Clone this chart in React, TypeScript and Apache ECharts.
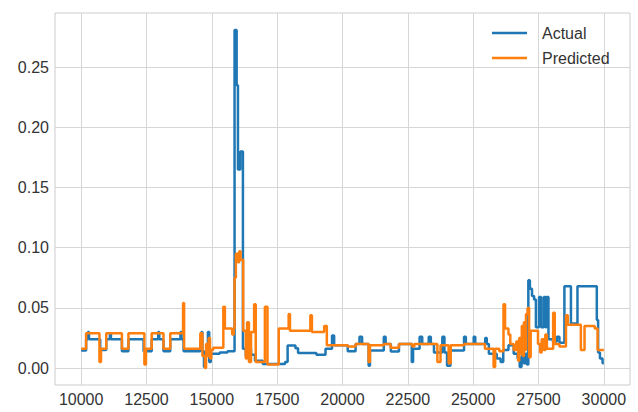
import React, { useEffect, useRef } from "react";
import * as echarts from "echarts";

const xTicks = [10000, 12500, 15000, 17500, 20000, 22500, 25000, 27500, 30000];
const yTicks = [0, 0.05, 0.1, 0.15, 0.2, 0.25];

const actualX = [
  10000, 10190, 10260, 10300, 10730, 10960, 11100, 11140, 11560, 11810, 12390, 12700, 12950, 12990,
  13150, 13410, 13800, 13840, 13920, 14560, 14600, 14640, 14700, 14760, 14850, 14900, 14960, 15300,
  15600, 15870, 15950, 16000, 16090, 16190, 16300, 16400, 16500, 16650, 16950, 17800, 17900, 18200,
  18300, 19000, 19350, 19600, 19680, 20200, 20500, 20650, 20750, 21000, 21050, 21580, 21650, 21850,
  22160, 22650, 22700, 22950, 23050, 23300, 23380, 23500, 23820, 23900, 24000, 24130, 24650, 24720,
  25020, 25080, 25460, 25520, 25600, 25900, 26050, 26150, 26350, 26550, 26700, 26780, 26850, 26930,
  27000, 27060, 27110, 27170, 27250, 27330, 27400, 27520, 27600, 27700, 27760, 27800, 27880, 28050,
  28200, 28300, 28490, 28740, 28990, 29730, 29780, 29850, 29950, 30000,
];
const actualY = [
  0.0146, 0.024, 0.03, 0.024, 0.015, 0.024, 0.029, 0.024, 0.014, 0.024, 0.014, 0.024, 0.03, 0.024,
  0.014, 0.024, 0.03, 0.024, 0.014, 0.024, 0.03, 0.014, 0.001, 0.014, 0.03, 0.005, 0.012, 0.013,
  0.014, 0.281, 0.235, 0.165, 0.18, 0.016, 0.01, 0.016, 0.011, 0.006, 0.0035, 0.005, 0.0187, 0.0165,
  0.0125, 0.011, 0.016, 0.027, 0.019, 0.014, 0.02, 0.026, 0.02, 0.002, 0.0146, 0.026, 0.02, 0.0138,
  0.02, 0.005, 0.016, 0.026, 0.02, 0.026, 0.02, 0.013, 0.026, 0.013, 0.002, 0.0146, 0.026, 0.02,
  0.026, 0.02, 0.025, 0.02, 0.012, 0.008, 0.005, 0.015, 0.019, 0.012, 0.008, 0.001, 0.01, 0.004,
  0.012, 0.003, 0.073, 0.066, 0.06, 0.057, 0.034, 0.059, 0.034, 0.059, 0.034, 0.059, 0.024, 0.022,
  0.026, 0.021, 0.068, 0.037, 0.068, 0.04, 0.013, 0.008, 0.004, 0.004,
];

const predX = [
  10000, 10190, 10700, 10760, 10960, 11560, 11810, 12420, 12480, 12700, 13150, 13410, 13900, 13940,
  14560, 14640, 14740, 14780, 14830, 14880, 14930, 14980, 15050, 15440, 15500, 15780, 15840, 15870,
  15920, 16000, 16050, 16100, 16200, 16300, 16350, 16420, 16500, 16620, 16680, 17030, 17130, 17560,
  17940, 17990, 18770, 18830, 19300, 19400, 20200, 20500, 21000, 21050, 21580, 21840, 22160, 22670,
  22750, 23630, 23750, 24060, 24140, 24650, 25450, 25780, 25840, 26000, 26160, 26220, 26350, 26420,
  26550, 26650, 26720, 26760, 26820, 26860, 26900, 26940, 26980, 27020, 27080, 27140, 27200, 27480,
  27560, 27620, 27700, 27760, 27820, 28060, 28120, 28300, 28550, 28620, 29120, 29260, 29650, 29760,
  30000,
];
const predY = [
  0.016, 0.029, 0.005, 0.016, 0.029, 0.016, 0.029, 0.003, 0.016, 0.029, 0.016, 0.029, 0.054, 0.016,
  0.029, 0.01, 0.0, 0.02, 0.01, 0.025, 0.008, 0.015, 0.017, 0.051, 0.033, 0.028, 0.033, 0.075,
  0.095, 0.088, 0.097, 0.09, 0.031, 0.008, 0.038, 0.005, 0.03, 0.053, 0.005, 0.051, 0.003, 0.033,
  0.045, 0.031, 0.044, 0.03, 0.035, 0.019, 0.018, 0.02, 0.005, 0.019, 0.02, 0.017, 0.02, 0.018,
  0.02, 0.005, 0.019, 0.004, 0.019, 0.02, 0.016, 0.001, 0.016, 0.014, 0.053, 0.033, 0.028, 0.02,
  0.015, 0.022, 0.006, 0.025, 0.012, 0.035, 0.01, 0.038, 0.015, 0.045, 0.05, 0.009, 0.031, 0.02,
  0.013, 0.024, 0.015, 0.028, 0.016, 0.046, 0.02, 0.018, 0.044, 0.036, 0.015, 0.035, 0.033, 0.015,
  0.015,
];

const FONT = "'Liberation Sans', Arial, sans-serif";

export default function App() {
  const ref = useRef<HTMLDivElement>(null);
  useEffect(() => {
    if (!ref.current) return;
    const chart = echarts.init(ref.current, null, { renderer: "svg" });
    const allY = actualY.concat(predY);
    const yMinD = Math.min(...allY);
    const yMaxD = Math.max(...allY);
    const pad = (yMaxD - yMinD) * 0.05;
    chart.setOption({
      animation: false,
      backgroundColor: "#ffffff",
      grid: {
        left: 55,
        right: 8,
        top: 13,
        bottom: 27,
        show: true,
        borderColor: "#cccccc",
        borderWidth: 1,
        backgroundColor: "transparent",
      },
      legend: {
        orient: "vertical",
        left: 492,
        top: 25,
        padding: 0,
        itemWidth: 35,
        itemHeight: 2.5,
        itemGap: 9,
        icon: "rect",
        textStyle: {
          fontFamily: FONT,
          fontSize: 16,
          color: "#333333",
          lineHeight: 16,
          padding: [0, 0, 0, 10],
        },
        data: ["Actual", "Predicted"],
      },
      xAxis: {
        type: "value",
        min: 9000,
        max: 31000,
        axisLine: { show: false },
        axisTick: { show: false, customValues: xTicks },
        axisLabel: {
          customValues: xTicks,
          fontFamily: FONT,
          fontSize: 16,
          color: "#333333",
          margin: 6,
          formatter: (v: number) => String(Math.round(v)),
        },
        splitLine: { show: true, lineStyle: { color: "#d6d6d6", width: 1 } },
      },
      yAxis: {
        type: "value",
        min: yMinD - pad,
        max: yMaxD + pad,
        axisLine: { show: false },
        axisTick: { show: false, customValues: yTicks },
        axisLabel: {
          customValues: yTicks,
          fontFamily: FONT,
          fontSize: 16,
          color: "#333333",
          margin: 6,
          formatter: (v: number) => v.toFixed(2),
        },
        splitLine: { show: true, lineStyle: { color: "#d6d6d6", width: 1 } },
      },
      series: [
        {
          name: "Actual",
          type: "line",
          step: "end",
          showSymbol: false,
          color: "#1f77b4",
          lineStyle: { width: 2.5, color: "#1f77b4" },
          data: actualX.map((x, i) => [x, actualY[i]]),
        },
        {
          name: "Predicted",
          type: "line",
          step: "end",
          showSymbol: false,
          color: "#ff7f0e",
          lineStyle: { width: 2.5, color: "#ff7f0e" },
          data: predX.map((x, i) => [x, predY[i]]),
        },
      ],
    });
    return () => chart.dispose();
  }, []);
  return <div ref={ref} style={{ width: 638, height: 412, position: "absolute", left: 0, top: 0 }} />;
}
